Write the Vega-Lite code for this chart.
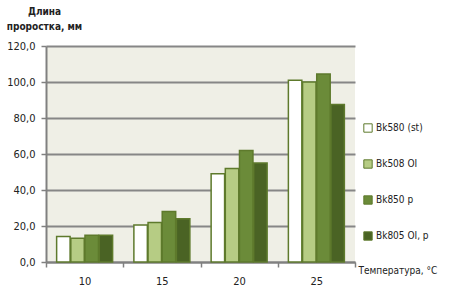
{
  "$schema": "https://vega.github.io/schema/vega-lite/v6.json",
  "autosize": {"type": "none"},
  "width": 309,
  "height": 216,
  "padding": {"left": 46, "top": 46, "right": 100, "bottom": 29},
  "background": "#ffffff",
  "view": {"fill": "#efefe6", "stroke": null},
  "data": {"values": [
    {"t": "10", "s": "Bk580 (st)", "v": 14.2},
    {"t": "10", "s": "Bk508 OI", "v": 13.2},
    {"t": "10", "s": "Bk850 p", "v": 14.8},
    {"t": "10", "s": "Bk805 OI, p", "v": 14.8},
    {"t": "15", "s": "Bk580 (st)", "v": 20.5},
    {"t": "15", "s": "Bk508 OI", "v": 22.0},
    {"t": "15", "s": "Bk850 p", "v": 28.0},
    {"t": "15", "s": "Bk805 OI, p", "v": 24.0},
    {"t": "20", "s": "Bk580 (st)", "v": 49.0},
    {"t": "20", "s": "Bk508 OI", "v": 52.0},
    {"t": "20", "s": "Bk850 p", "v": 62.0},
    {"t": "20", "s": "Bk805 OI, p", "v": 55.0},
    {"t": "25", "s": "Bk580 (st)", "v": 101.0},
    {"t": "25", "s": "Bk508 OI", "v": 100.0},
    {"t": "25", "s": "Bk850 p", "v": 104.5},
    {"t": "25", "s": "Bk805 OI, p", "v": 87.5}
  ]},
  "mark": {"type": "bar", "stroke": "#5e7a2c", "strokeWidth": 1.5},
  "encoding": {
    "x": {
      "field": "t", "type": "nominal", "sort": ["10", "15", "20", "25"],
      "scale": {"paddingInner": 0, "paddingOuter": 0},
      "axis": {
        "title": "Температура, °C", "titleAngle": 0, "titleX": 312, "titleY": 8,
        "titleAlign": "left", "titleBaseline": "middle", "titleFont": "DejaVu Sans Condensed",
        "titleFontSize": 10, "titleFontWeight": "normal", "titleColor": "#222",
        "labelAngle": 0, "labelFont": "DejaVu Sans Condensed", "labelFontSize": 11, "labelColor": "#222",
        "labelPadding": 8,
        "tickBand": "extent", "tickColor": "#808080", "tickSize": 5, "tickWidth": 1.5,
        "domainColor": "#808080", "domainWidth": 2, "grid": false
      }
    },
    "xOffset": {
      "field": "s", "type": "nominal",
      "sort": ["Bk580 (st)", "Bk508 OI", "Bk850 p", "Bk805 OI, p"],
      "scale": {"paddingOuter": 0.75, "paddingInner": 0.05}
    },
    "y": {
      "field": "v", "type": "quantitative",
      "scale": {"domain": [0, 120], "nice": false},
      "axis": {
        "values": [0, 20, 40, 60, 80, 100, 120],
        "labelExpr": "replace(format(datum.value, '.1f'), '.', ',')",
        "labelFont": "DejaVu Sans Condensed", "labelFontSize": 11, "labelColor": "#222",
        "labelPadding": 6,
        "title": ["Длина", "проростка, мм"], "titleAngle": 0, "titleAlign": "center",
        "titleBaseline": "bottom", "titleX": -2, "titleY": -30, "titleFont": "DejaVu Sans Condensed",
        "titleFontSize": 10, "titleFontWeight": "bold", "titleColor": "#222", "titleLineHeight": 15,
        "grid": true, "gridColor": "#868686", "gridWidth": 2,
        "tickColor": "#808080", "tickSize": 5, "tickWidth": 1.5,
        "domainColor": "#808080", "domainWidth": 2
      }
    },
    "fill": {
      "field": "s", "type": "nominal",
      "sort": ["Bk580 (st)", "Bk508 OI", "Bk850 p", "Bk805 OI, p"],
      "scale": {
        "domain": ["Bk580 (st)", "Bk508 OI", "Bk850 p", "Bk805 OI, p"],
        "range": ["#ffffff", "#b6cc84", "#6b8b39", "#4a6324"]
      },
      "legend": {
        "orient": "none", "legendX": 317, "legendY": 77, "title": null,
        "symbolType": "square", "symbolSize": 70, "symbolStrokeColor": "#5e7a2c", "symbolStrokeWidth": 1,
        "labelFont": "DejaVu Sans Condensed", "labelFontSize": 10, "labelColor": "#222",
        "rowPadding": 22, "labelOffset": 3
      }
    }
  },
  "config": {"axis": {"labelFlush": false}}
}
